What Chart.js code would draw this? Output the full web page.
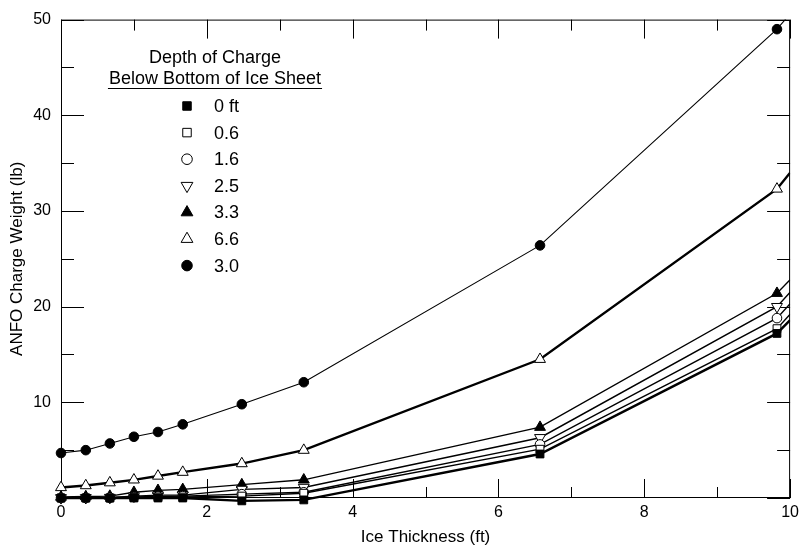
<!DOCTYPE html>
<html>
<head>
<meta charset="utf-8">
<script src="https://cdn.jsdelivr.net/npm/chart.js@4/dist/chart.umd.min.js"></script>
<style>
  html, body { margin: 0; padding: 0; background: #fff; }
</style>
</head>
<body>
<canvas id="graficoCarga" width="804" height="554"></canvas>
<script>
// Espesor del hielo (ft) - el ultimo punto (10) solo prolonga la linea, sin marcador
const espesorHielo = [0, 0.34, 0.67, 1.0, 1.33, 1.67, 2.48, 3.33, 6.57, 9.82, 10];
const profundidades = ['0 ft', '0.6', '1.6', '2.5', '3.3', '6.6', '3.0'];

// Peso de carga ANFO (lb) por profundidad
const carga_0  = [0, 0, 0, 0, 0, 0, -0.3, -0.2, 4.6, 17.2, 18.6];
const carga_06 = [0, 0, 0, 0.05, 0.1, 0.1, 0.2, 0.5, 5.1, 17.7, 19.2];
const carga_16 = [0, 0, 0.02, 0.1, 0.15, 0.2, 0.4, 0.6, 5.6, 18.8, 20.3];
const carga_25 = [0.02, 0.03, 0.05, 0.2, 0.3, 0.3, 0.9, 1.1, 6.3, 20.0, 21.5];
const carga_33 = [0.1, 0.15, 0.2, 0.6, 0.8, 0.9, 1.4, 1.9, 7.4, 21.4, 22.8];
const carga_66 = [1.1, 1.3, 1.6, 1.9, 2.3, 2.7, 3.6, 5.0, 14.5, 32.3, 34.0];
const carga_30 = [4.7, 5.0, 5.7, 6.4, 6.9, 7.7, 9.8, 12.1, 26.4, 49.0, 50.6];

const ticksX = [0, 2, 4, 6, 8, 10];
const ticksY = [10, 20, 30, 40, 50];

const series = [carga_0, carga_06, carga_16, carga_25, carga_33, carga_66, carga_30];

// estilo de cada serie (marcador y grosor de linea)
const estilos = [
  { pointStyle: 'rect', fondo: '#000', radio: 5.5, rot: 0, grosor: 2.4 },
  { pointStyle: 'rect', fondo: '#fff', radio: 5.5, rot: 0, grosor: 1.4 },
  { pointStyle: 'circle', fondo: '#fff', radio: 4.8, rot: 0, grosor: 1.4 },
  { pointStyle: 'triangle', fondo: '#fff', radio: 6.3, rot: 180, grosor: 1.4 },
  { pointStyle: 'triangle', fondo: '#000', radio: 6.3, rot: 0, grosor: 1.4 },
  { pointStyle: 'triangle', fondo: '#fff', radio: 6.3, rot: 0, grosor: 2.4 },
  { pointStyle: 'circle', fondo: '#000', radio: 4.8, rot: 0, grosor: 1.1 }
];

const fuente = "'Liberation Sans', Arial, Helvetica, sans-serif";

const datasets = series.map((serie, i) => {
  const e = estilos[i];
  return {
    label: profundidades[i],
    data: espesorHielo.map((x, j) => ({ x: x, y: serie[j] })),
    borderColor: '#000',
    borderWidth: e.grosor,
    backgroundColor: e.fondo,
    pointBackgroundColor: e.fondo,
    pointBorderColor: '#000',
    pointBorderWidth: 1,
    pointStyle: e.pointStyle,
    pointRotation: e.rot,
    pointRadius: ctx => (ctx.raw && ctx.raw.x >= 10 ? 0 : e.radio),
    pointHoverRadius: ctx => (ctx.raw && ctx.raw.x >= 10 ? 0 : e.radio),
    tension: 0,
    fill: false,
    clip: { left: false, top: 0, right: 0, bottom: false }
  };
});

// marco y marcas hacia dentro en los cuatro lados
const marcoYMarcas = {
  id: 'marcoYMarcas',
  beforeDatasetsDraw(chart) {
    const { ctx, chartArea: a, scales: { x, y } } = chart;
    ctx.save();
    ctx.strokeStyle = '#000';
    ctx.lineWidth = 1;
    ctx.strokeRect(a.left + 0.5, a.top + 0.5, a.right - a.left - 1, a.bottom - a.top - 1);
    ctx.beginPath();
    for (let v = 0; v <= 10; v++) {
      const px = Math.round(x.getPixelForValue(v)) + 0.5;
      const largo = v % 2 === 0 ? 19 : 11;
      ctx.moveTo(px, a.bottom); ctx.lineTo(px, a.bottom - largo);
      ctx.moveTo(px, a.top); ctx.lineTo(px, a.top + largo);
    }
    for (let v = 0; v <= 50; v += 5) {
      const py = Math.round(y.getPixelForValue(v)) + 0.5;
      const largo = v % 10 === 0 ? 23 : 13;
      ctx.moveTo(a.left, py); ctx.lineTo(a.left + largo, py);
      ctx.moveTo(a.right, py); ctx.lineTo(a.right - largo, py);
    }
    ctx.stroke();
    ctx.restore();
  }
};

// leyenda dentro del grafico
const leyenda = {
  id: 'leyenda',
  afterDraw(chart) {
    const ctx = chart.ctx;
    ctx.save();
    ctx.fillStyle = '#000';
    ctx.font = '18px ' + fuente;
    ctx.textAlign = 'center';
    ctx.textBaseline = 'middle';
    ctx.fillText('Depth of Charge', 215, 58);
    ctx.fillText('Below Bottom of Ice Sheet', 215, 79);
    const ancho = ctx.measureText('Below Bottom of Ice Sheet').width;
    ctx.strokeStyle = '#000';
    ctx.lineWidth = 1;
    ctx.beginPath();
    ctx.moveTo(215 - ancho / 2 - 1, 88.5);
    ctx.lineTo(215 + ancho / 2 + 1, 88.5);
    ctx.stroke();
    ctx.textAlign = 'left';
    profundidades.forEach((p, i) => {
      const e = estilos[i];
      const yy = 106 + 26.6 * i;
      ctx.fillStyle = e.fondo;
      ctx.strokeStyle = '#000';
      ctx.lineWidth = 1;
      Chart.helpers.drawPoint(ctx, {
        pointStyle: e.pointStyle, rotation: e.rot, radius: e.radio + 0.5, borderWidth: 1
      }, 187, yy);
      ctx.fillStyle = '#000';
      ctx.fillText(p, 214, yy + 1);
    });
    ctx.restore();
  }
};

new Chart(document.getElementById('graficoCarga').getContext('2d'), {
  type: 'line',
  data: { datasets: datasets },
  options: {
    responsive: false,
    animation: false,
    layout: { padding: { left: 0, top: 13, right: 9, bottom: 0 } },
    plugins: { legend: { display: false }, tooltip: { enabled: false } },
    scales: {
      x: {
        type: 'linear',
        min: 0,
        max: 10,
        afterBuildTicks: scale => { scale.ticks = ticksX.map(v => ({ value: v })); },
        afterFit: scale => { scale.height = 56; },
        grid: { display: false, drawTicks: false },
        border: { display: false },
        ticks: { color: '#000', padding: 5, font: { family: fuente, size: 16 } },
        title: {
          display: true,
          text: 'Ice Thickness (ft)',
          color: '#000',
          padding: { top: 0, bottom: 6 },
          font: { family: fuente, size: 17 }
        }
      },
      y: {
        type: 'linear',
        min: 0,
        max: 50,
        afterBuildTicks: scale => { scale.ticks = ticksY.map(v => ({ value: v })); },
        afterFit: scale => { scale.width = 61; },
        grid: { display: false, drawTicks: false },
        border: { display: false },
        ticks: { color: '#000', padding: 10, font: { family: fuente, size: 16 } },
        title: {
          display: true,
          text: 'ANFO Charge Weight (lb)',
          color: '#000',
          padding: { top: 7, bottom: 0 },
          font: { family: fuente, size: 17 }
        }
      }
    }
  },
  plugins: [marcoYMarcas, leyenda]
});
</script>
</body>
</html>
